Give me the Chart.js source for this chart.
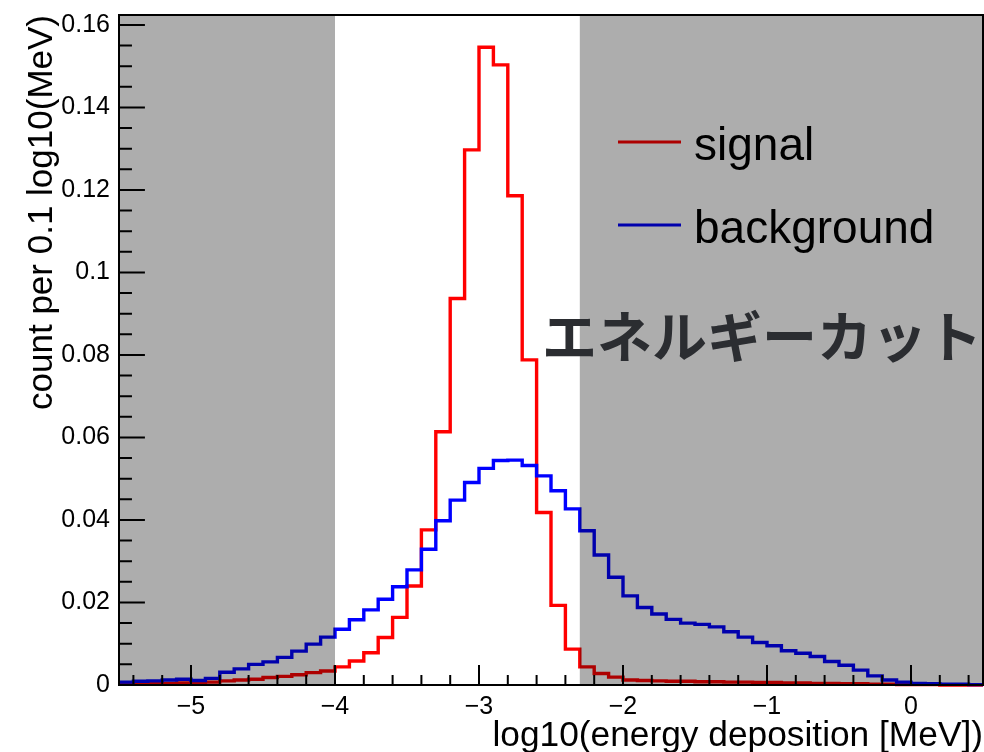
<!DOCTYPE html>
<html>
<head>
<meta charset="utf-8">
<script src="https://cdn.jsdelivr.net/npm/chart.js@4.4.0/dist/chart.umd.min.js"></script>
<style>
  html, body { margin: 0; padding: 0; background: #fff; }
  #wrap { width: 984px; height: 752px; }
</style>
</head>
<body>
<div id="wrap"><canvas id="hist" width="984" height="752"></canvas></div>
<script>
// histogram binning: 60 bins of 0.1 in log10(E/MeV)
const binStart = -5.5;
const binWidth = 0.1;

const signal = [
  0.0002, 0.0003, 0.0003, 0.0004, 0.0005, 0.0006, 0.0007, 0.0010, 0.0012, 0.0014,
  0.0018, 0.0021, 0.0025, 0.0030, 0.0034, 0.0044, 0.0058, 0.0078, 0.0115, 0.0164,
  0.0240, 0.0376, 0.0614, 0.0937, 0.1297, 0.1546, 0.1503, 0.1186, 0.0788, 0.0418,
  0.0193, 0.0087, 0.0044, 0.0028, 0.0019, 0.0012, 0.0011, 0.0010, 0.0009, 0.0009,
  0.0008, 0.0008, 0.0007, 0.0007, 0.0006, 0.0006, 0.0005, 0.0005, 0.0004, 0.0004,
  0.0003, 0.0003, 0.0002, 0.0002, 0.0001, 0.0001, 0.0001, 0.0000, 0.0000, 0.0000
];

const background = [
  0.0007, 0.0009, 0.0010, 0.0012, 0.0014, 0.0011, 0.0016, 0.0031, 0.0039, 0.0050,
  0.0056, 0.0067, 0.0082, 0.0099, 0.0116, 0.0135, 0.0158, 0.0182, 0.0208, 0.0238,
  0.0279, 0.0329, 0.0398, 0.0448, 0.0491, 0.0525, 0.0544, 0.0545, 0.0532, 0.0507,
  0.0471, 0.0427, 0.0374, 0.0315, 0.0261, 0.0216, 0.0188, 0.0172, 0.0159, 0.0150,
  0.0147, 0.0141, 0.0129, 0.0116, 0.0103, 0.0095, 0.0083, 0.0077, 0.0069, 0.0057,
  0.0048, 0.0036, 0.0022, 0.0012, 0.0007, 0.0004, 0.0003, 0.0002, 0.0002, 0.0001
];

const xTicks = [-5, -4, -3, -2, -1, 0];
const yTicks = [0, 0.02, 0.04, 0.06, 0.08, 0.1, 0.12, 0.14, 0.16];
const xRange = [-5.5, 0.5];
const yRange = [0, 0.1624];
const cutWindow = [-4.0, -2.3];   // kept region, the rest is greyed out
const legendLabels = ['signal', 'background'];
const cutLabel = 'エネルギーカット';

const FONT = "'Liberation Sans', Arial, sans-serif";

// bin low edges -> points for a stepped outline
function toSteps(values) {
  const pts = values.map((v, i) => ({ x: binStart + i * binWidth, y: v }));
  pts.push({ x: binStart + values.length * binWidth, y: values[values.length - 1] });
  return pts;
}

const minus = v => (v < 0 ? '\u2212' + (-v) : String(v));

// ROOT look: legend, grey shading, frame with inward ticks, label
const rootStyle = {
  id: 'rootStyle',
  afterDatasetsDraw(chart) {
    const { ctx, chartArea: a, scales: { x, y } } = chart;
    ctx.save();

    // legend sits under the shading, like in the original
    const colors = ['#ff0000', '#0000ff'];
    ctx.font = '46px ' + FONT;
    ctx.textBaseline = 'alphabetic';
    legendLabels.forEach((txt, i) => {
      const ly = 142 + i * 83;
      ctx.strokeStyle = colors[i];
      ctx.lineWidth = 3;
      ctx.beginPath();
      ctx.moveTo(618, ly);
      ctx.lineTo(681, ly);
      ctx.stroke();
      ctx.fillStyle = '#000';
      ctx.fillText(txt, 694, ly + 18);
    });

    // shading outside the cut window
    ctx.fillStyle = 'rgba(0,0,0,0.32)';
    const xl = x.getPixelForValue(cutWindow[0]);
    const xr = x.getPixelForValue(cutWindow[1]);
    ctx.fillRect(a.left, a.top - 1, xl - a.left, a.bottom - a.top + 1);
    ctx.fillRect(xr, a.top - 1, a.right - xr, a.bottom - a.top + 1);

    // frame
    ctx.strokeStyle = '#000';
    ctx.lineWidth = 2;
    ctx.strokeRect(a.left, a.top, a.right - a.left, a.bottom - a.top);

    // inward ticks
    const ylen = (a.right - a.left) * 0.03;
    const xlen = (a.bottom - a.top) * 0.03;
    ctx.beginPath();
    for (let k = 0; k * 0.005 <= yRange[1]; k++) {
      const py = y.getPixelForValue(k * 0.005);
      ctx.moveTo(a.left, py);
      ctx.lineTo(a.left + (k % 4 === 0 ? ylen : ylen / 2), py);
    }
    for (let k = -27; k * 0.2 <= xRange[1]; k++) {
      const px = x.getPixelForValue(k * 0.2);
      ctx.moveTo(px, a.bottom);
      ctx.lineTo(px, a.bottom - (k % 5 === 0 ? xlen : xlen / 2));
    }
    ctx.stroke();

    // annotation on top
    ctx.font = 'bold 55px "Noto Sans CJK JP", sans-serif';
    ctx.fillStyle = '#2b2d31';
    ctx.fillText(cutLabel, 542, 357);

    ctx.restore();
  }
};

new Chart(document.getElementById('hist'), {
  type: 'line',
  data: {
    datasets: [
      {
        label: legendLabels[0],
        data: toSteps(signal),
        borderColor: '#ff0000',
        borderWidth: 3.4,
        stepped: true,
        pointRadius: 0,
        fill: false,
        clip: false,
        order: 2
      },
      {
        label: legendLabels[1],
        data: toSteps(background),
        borderColor: '#0000ff',
        borderWidth: 3.4,
        stepped: true,
        pointRadius: 0,
        fill: false,
        clip: false,
        order: 1
      }
    ]
  },
  options: {
    responsive: false,
    animation: false,
    events: [],
    layout: { padding: { top: 15, right: 1, left: 0, bottom: 0 } },
    plugins: {
      legend: { display: false },
      tooltip: { enabled: false }
    },
    scales: {
      x: {
        type: 'linear',
        min: xRange[0],
        max: xRange[1],
        grid: { display: false },
        border: { display: false },
        afterBuildTicks: s => { s.ticks = xTicks.map(v => ({ value: v })); },
        afterFit: s => { s.height = 67; s.paddingLeft = 0; s.paddingRight = 0; },
        ticks: {
          color: '#000',
          font: { family: FONT, size: 25 },
          padding: -1,
          maxRotation: 0,
          autoSkip: false,
          callback: v => minus(v)
        },
        title: {
          display: true,
          text: 'log10(energy deposition [MeV])',
          align: 'end',
          color: '#000',
          font: { family: FONT, size: 35.3, lineHeight: 0.92 },
          padding: 0
        }
      },
      y: {
        type: 'linear',
        min: yRange[0],
        max: yRange[1],
        grid: { display: false },
        border: { display: false },
        afterBuildTicks: s => { s.ticks = yTicks.map(v => ({ value: v })); },
        afterFit: s => { s.width = 119; s.paddingTop = 0; s.paddingBottom = 0; },
        ticks: {
          color: '#000',
          font: { family: FONT, size: 25 },
          padding: 1,
          autoSkip: false,
          callback: v => String(Number(v.toFixed(3)))
        },
        title: {
          display: true,
          text: 'count per 0.1 log10(MeV)',
          align: 'end',
          color: '#000',
          font: { family: FONT, size: 35, lineHeight: 0.92 },
          padding: { top: 26, bottom: 0 }
        }
      }
    }
  },
  plugins: [rootStyle]
});
</script>
</body>
</html>
